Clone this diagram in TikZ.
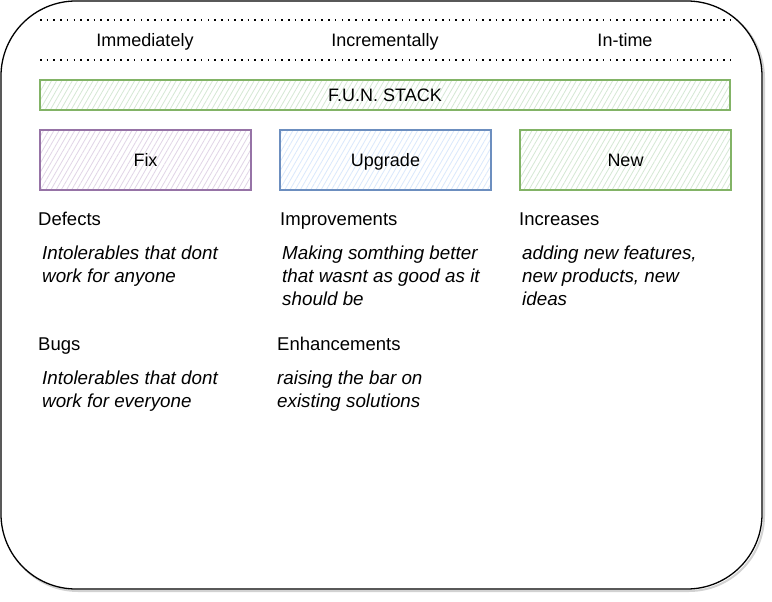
\documentclass[tikz,border=0pt]{standalone}
\usepackage{fontspec}
\setmainfont{Liberation Sans}
\usetikzlibrary{patterns.meta}
\definecolor{pstroke}{HTML}{9673A6}
\definecolor{pfill}{HTML}{E1D5E7}
\definecolor{bstroke}{HTML}{6C8EBF}
\definecolor{bfill}{HTML}{DAE8FC}
\definecolor{gstroke}{HTML}{82B366}
\definecolor{gfill}{HTML}{D5E8D4}
\tikzset{
  base/.style={font=\fontsize{18}{23}\selectfont},
  hdr/.style={base, inner sep=0pt, text height=12.9pt, text depth=0pt, anchor=center},
  hatchbox/.style={draw=#1stroke, line width=1.1pt, inner sep=0pt,
     pattern={Lines[angle=60,distance=4.5pt,line width=0.8pt]}, pattern color=#1fill,
     text height=12.9pt, text depth=0pt, base},
  ttl/.style={inner sep=0pt, anchor=base west, font=\fontsize{18.5}{23}\selectfont},
  body/.style={inner sep=0pt, anchor=north west, align=left, font=\fontsize{18.8}{23}\selectfont\itshape},
  dotline/.style={line width=1.6pt, dash pattern=on 1.6pt off 5.1pt},
}
\begin{document}
\begin{tikzpicture}[x=1pt,y=-1pt]
\useasboundingbox (0,0) rectangle (772,602);
% outer container
\draw[color=gray!35, line width=2pt, rounded corners=75pt] (3,3) rectangle (764,591);
\draw[fill=white, line width=1.3pt, rounded corners=75pt] (1,1) rectangle (762,589);
% dotted separators
\coordinate (d1a) at (40,20); \coordinate (d1b) at (731,20);
\coordinate (d2a) at (40,60); \coordinate (d2b) at (731,60);
\draw[dotline] (d1a) -- (d1b);
\draw[dotline] (d2a) -- (d2b);
% headers
\node[hdr] (h1) at (145,40) {Immediately};
\node[hdr] (h2) at (385,40) {Incrementally};
\node[hdr] (h3) at (625,40) {In-time};
% stack bar
\node[hatchbox=g, minimum width=690pt, minimum height=30pt] (stack) at (385,95) {F.U.N. STACK};
% boxes
\node[hatchbox=p, minimum width=211pt, minimum height=60pt] (fix) at (145.5,160) {Fix};
\node[hatchbox=b, minimum width=211pt, minimum height=60pt] (upg) at (385.5,160) {Upgrade};
\node[hatchbox=g, minimum width=211pt, minimum height=60pt] (new) at (625.5,160) {New};
% titles
\node[ttl] (t1) at (38,225.7) {Defects};
\node[ttl] (t2) at (280,225.7) {Improvements};
\node[ttl] (t3) at (519,225.7) {Increases};
\node[ttl] (t4) at (38,350.7) {Bugs};
\node[ttl] (t5) at (277,350.7) {Enhancements};
% bodies
\node[body] (b1) at (42,243.2) {\strut Intolerables that dont\\\strut work for anyone};
\node[body] (b2) at (282,243.2) {\strut Making somthing better\\\strut that wasnt as good as it\\\strut should be};
\node[body] (b3) at (522,243.2) {\strut adding new features,\\\strut new products, new\\\strut ideas};
\node[body] (b4) at (42,368.2) {\strut Intolerables that dont\\\strut work for everyone};
\node[body] (b5) at (277,368.2) {\strut raising the bar on\\\strut existing solutions};
\end{tikzpicture}
\end{document}
